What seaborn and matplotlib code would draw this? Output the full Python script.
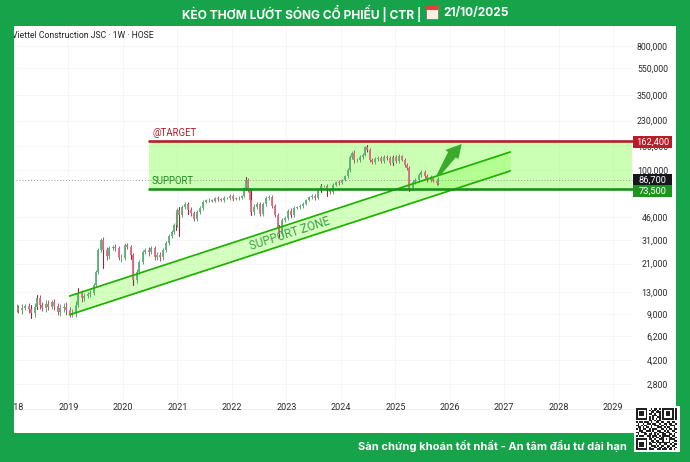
import numpy as np
import pandas as pd
import seaborn as sns
import matplotlib
matplotlib.use("Agg")
import matplotlib.pyplot as plt
from matplotlib.patches import Rectangle, Polygon

# ---- data ----
years = [2018.05,2018.08,2018.14,2018.21,2018.27,2018.32,2018.38,2018.43,2018.47,2018.52,2018.58,2018.63,2018.69,2018.74,2018.80,2018.85,2018.91,2018.96,
 2019.02,2019.07,2019.13,2019.18,2019.24,2019.29,2019.35,2019.40,2019.46,2019.51,2019.55,2019.59,2019.64,2019.70,2019.75,2019.81,2019.86,2019.92,2019.97,
 2020.03,2020.08,2020.14,2020.19,2020.25,2020.30,2020.36,2020.41,2020.47,2020.52,2020.58,2020.63,2020.68,2020.74,2020.79,2020.85,2020.90,2020.94,
 2021.00,2021.03,2021.09,2021.14,2021.20,2021.25,2021.31,2021.36,2021.42,2021.47,2021.53,2021.58,2021.64,2021.69,2021.75,2021.80,2021.86,2021.91,2021.97,
 2022.02,2022.08,2022.13,2022.19,2022.22,2022.26,2022.30,2022.33,2022.35,2022.41,2022.46,2022.52,2022.57,2022.63,2022.68,2022.74,2022.79,2022.85,2022.86,2022.92,2022.97,
 2023.03,2023.08,2023.14,2023.19,2023.25,2023.30,2023.36,2023.41,2023.47,2023.52,2023.58,2023.63,2023.69,2023.74,2023.80,2023.85,2023.91,2023.96,
 2024.02,2024.07,2024.13,2024.16,2024.20,2024.24,2024.29,2024.35,2024.40,2024.44,2024.49,2024.53,2024.57,2024.62,2024.68,2024.73,2024.79,2024.84,2024.90,2024.95,
 2025.01,2025.06,2025.12,2025.17,2025.21,2025.25,2025.26,2025.32,2025.37,2025.43,2025.48,2025.54,2025.59,2025.65,2025.70,2025.76,2025.79]
closes = [10000,9690,10000,10300,9850,9200,10200,11800,10500,10000,10700,10200,11000,10300,9370,10000,10200,9690,
 9060,9200,10500,12800,11800,12200,12600,12800,14700,18300,26300,31100,26300,23800,27200,27700,27200,23100,23100,
 28600,27700,24200,15900,18300,21600,25500,26300,25500,27200,23400,24200,23400,26300,29600,33300,35600,40100,
 51500,47400,54200,57000,51500,49000,44300,49800,53300,58900,60900,60900,59900,63000,61900,60900,63000,63000,65100,
 61900,63000,63000,65100,74400,85000,71900,60900,49800,54200,57000,48200,57000,63000,64000,55100,47400,38100,34400,43600,45100,
 50700,47400,53300,54200,55100,57000,60900,64000,65100,63000,71900,76900,76900,71900,69600,78200,82200,80900,
 85000,90900,100500,125000,133600,118800,118800,124900,129200,147700,140400,118800,114900,120800,122800,116800,124900,122800,113000,124900,
 116800,127000,118800,109300,103900,85000,74400,82200,85000,92400,97200,90900,85000,89400,83600,80900,86700]
wick_pct = [6,5,7,4,6,5,7,3,6,5,7,6,4,6,5,7,6,8,
 5,6,7,4,6,5,4,5,3,3,3,3,5,6,4,3,5,4,6,
 4,3,4,3,5,4,3,4,6,3,4,5,6,4,3,4,3,3,
 3,3,3,3,4,5,3,3,3,3,2,3,2,2,3,2,3,2,3,
 3,2,3,2,2,3,3,4,3,5,3,4,3,3,4,3,3,4,3,3,4,
 4,5,3,2,3,3,2,2,3,4,2,3,2,3,3,3,2,3,
 2,2,3,3,3,5,4,4,3,2,3,3,4,3,3,4,3,3,3,3,
 3,3,2,3,3,3,3,3,4,3,3,3,3,3,2,3,3]

wick_years = [2018.32,2018.43,2019.18,2019.64,2020.19,2020.14,2020.97,2021.03,2022.26,2022.35,2022.86,2023.08,2023.74,2024.49,2025.26,2021.20,2023.63,2024.95]
wick_highs = [10500,12400,14000,28000,24200,26300,49000,54200,89400,71900,40100,51000,74000,152700,82200,57500,79000,128000]
wick_lows = [8470,9900,11600,19500,14700,22800,36800,33300,72000,47000,32700,46500,65500,138000,70700,48500,70000,110000]

level_names = ["@TARGET", "SUPPORT"]
level_values = [162400, 73500]
last_price = 86700
zone_years = [2020.48, 2029.35]
channel_years = [2019.02, 2027.11]
channel_upper = [12200, 135800]
channel_lower = [8910, 98900]
arrow_years = [2025.76, 2025.97, 2025.92, 2026.22, 2026.16, 2026.11, 2025.82]
arrow_prices = [92400, 135800, 140400, 155300, 120800, 124000, 90900]

year_ticks = list(range(2018, 2030))
price_ticks = [800000,550000,350000,230000,150000,100000,46000,31000,21000,13000,9000,6200,4200,2800]

qr_rows = [
"1111111001011010111111101",
"1000001010110100100000101",
"1011101001101110101110101",
"1011101011010010101110101",
"1011101000111010101110101",
"1000001010100110100000101",
"1111111010101010111111101",
"0000000011010110000000000",
"1011011101001101100110110",
"0100100110110010011011001",
"1101011001011101101001110",
"0110101101000111010110010",
"1010110010111001101011011",
"0011001110100110010100110",
"1101110001011011101110001",
"0100011011010100110011010",
"1011100110111010111110110",
"0000000010101101100011001",
"1111111011010011101011110",
"1000001001101100100010011",
"1011101010110111111110100",
"1011101011001010011001011",
"1011101001110101100110110",
"1000001010011011010101001",
"1111111011100110111011010",
]

# ---- style ----
sns.set_theme(style="white")
FONT = ["Roboto", "DejaVu Sans"]
plt.rcParams["font.family"] = FONT
BANNER = "#17A34A"
UP, DOWN = "#5FAF78", "#DC6C84"
UP_W, DOWN_W = "#3E9A5C", "#B8324F"
ZONE = (0.55, 1.0, 0.35)
LINE_G = "#1DB100"

W, H = 690, 462
fig = plt.figure(figsize=(W/100, H/100), dpi=100, facecolor=BANNER)
ax = fig.add_axes([14/W, 1-433/H, (676-14)/W, (433-26)/H], facecolor="white")
ax.set_yscale("log")
ax.set_xlim(2018.03, 2030.154)
ax.set_ylim(1232.6, 1118900)
for s in ax.spines.values():
    s.set_visible(False)

# faint grid and axis line
x_end = 2029.35
ax.hlines(price_ticks, 2018.03, x_end, color="#F6F6F6", lw=0.7, zorder=0)
ax.vlines(year_ticks, 1830, 1118900, color="#F6F6F6", lw=0.7, zorder=0)
ax.hlines(1830, 2018.03, 2030.154, color="#EEEEEE", lw=0.8, zorder=0)

# zones
ax.fill_between(zone_years, level_values[1], level_values[0], color=ZONE, alpha=0.45, lw=0, zorder=1)
ax.fill_between(channel_years, channel_lower, channel_upper, color=ZONE, alpha=0.38, lw=0, zorder=1.1)

# last-price dotted line
ax.hlines(last_price*0.98, 2018.03, x_end, color="#9A9A9A", lw=0.7, ls=(0, (1, 2)), zorder=1.2)

# candles from long-form tables through seaborn
opens = [closes[0]] + closes[:-1]
dirs = ["up" if c >= o else "down" for o, c in zip(opens, closes)]
bodies = pd.DataFrame({
    "year": np.repeat(years, 2),
    "price": np.column_stack([opens, closes]).ravel(),
    "candle": np.repeat(np.arange(len(years)), 2),
    "dir": np.repeat(dirs, 2),
})
sns.lineplot(data=bodies, x="year", y="price", units="candle", hue="dir", estimator=None, sort=False,
             palette={"up": UP, "down": DOWN}, lw=1.3, solid_capstyle="butt", legend=False, ax=ax, zorder=3)
lows = [min(o, c)*(1-p/100) for o, c, p in zip(opens, closes, wick_pct)]
highs = [max(o, c)*(1+p/100) for o, c, p in zip(opens, closes, wick_pct)]
thin = pd.DataFrame({
    "year": np.repeat(years, 2),
    "price": np.column_stack([lows, highs]).ravel(),
    "candle": np.repeat(np.arange(len(years)), 2),
    "dir": np.repeat(dirs, 2),
})
sns.lineplot(data=thin, x="year", y="price", units="candle", hue="dir", estimator=None, sort=False,
             palette={"up": UP_W, "down": DOWN_W}, lw=0.6, solid_capstyle="butt", legend=False, ax=ax, zorder=2.9)
wicks = pd.DataFrame({
    "year": np.repeat(wick_years, 2),
    "price": np.column_stack([wick_lows, wick_highs]).ravel(),
    "candle": np.repeat(np.arange(len(wick_years)), 2),
})
sns.lineplot(data=wicks, x="year", y="price", units="candle", estimator=None, sort=False,
             color="#8E2A3E", lw=0.8, legend=False, ax=ax, zorder=2.9)

# channel and level lines
for vals in (channel_upper, channel_lower):
    sns.lineplot(x=channel_years, y=vals, color=LINE_G, lw=1.25, ax=ax, zorder=4, errorbar=None)
sns.lineplot(x=zone_years, y=[level_values[0]]*2, color="#B3202A", lw=1.9, ax=ax, zorder=4, errorbar=None)
sns.lineplot(x=zone_years, y=[level_values[1]]*2, color="#159415", lw=1.9, ax=ax, zorder=4, errorbar=None)

# arrow
ax.add_patch(Polygon(list(zip(arrow_years, arrow_prices)), closed=True, fc="#3BAA2A", ec="none", zorder=5))

# annotations
ax.text(2020.55, 186500, "@TARGET", color="#B3202A", fontsize=6.9, va="center", ha="left", zorder=6)
ax.text(2020.53, 83600, "SUPPORT", color="#1F8F1F", fontsize=6.9, va="center", ha="left", zorder=6)
ax.text(2023.07, 34500, "SUPPORT ZONE", color="#3F9E4A", fontsize=8.4, va="center", ha="center",
        rotation=18, rotation_mode="anchor", zorder=6)

# ticks as labels inside the panel
ax.set_xticks(year_ticks)
ax.set_xticklabels([str(y) for y in year_ticks])
ax.set_yticks(price_ticks)
ax.set_yticklabels([f"{p:,}" for p in price_ticks])
ax.minorticks_off()
ax.yaxis.tick_right()
ax.tick_params(axis="y", length=0, pad=-5.8, labelsize=6.3, labelcolor="#2B2B2B")
ax.tick_params(axis="x", length=0, pad=-21.5, labelsize=6.5, labelcolor="#2B2B2B")
for t in ax.get_yticklabels():
    t.set_ha("right")
for t in ax.get_xticklabels():
    t.set_clip_box(ax.bbox)
    t.set_clip_on(True)
ax.set_xlabel("")
ax.set_ylabel("")

# price tags on the scale
tags = [("162,400", level_values[0], "#B3202A"), ("86,700", 86700, "#15171C"), ("73,500", level_values[1], "#1F931F")]
tag_pix = [142, 180, 191]
for (txt, _, col), yp in zip(tags, tag_pix):
    fig.patches.append(Rectangle((633/W, 1-(yp+5.6)/H), 39/W, 11.2/H, transform=fig.transFigure, fc=col, ec="none", zorder=10))
    fig.text(652.5/W, 1-yp/H, txt, color="white", fontsize=6.7, ha="center", va="center", zorder=11)

# source line
ax.text(2017.97, 962000, "Viettel Construction JSC · 1W · HOSE", color="#222222", fontsize=6.2, va="center", ha="left", clip_on=True)

# banner
fig.text(421/W, 1-13/H, "KÈO THƠM LƯỚT SÓNG CỔ PHIẾU | CTR |", color="white", fontsize=8.6, fontweight="bold", ha="right", va="center", family=["Inter", "DejaVu Sans"])
fig.text(443/W, 1-13/H, "21/10/2025", color="white", fontsize=8.6, fontweight="bold", ha="left", va="center", family=["Inter", "DejaVu Sans"])
fig.patches.append(Rectangle((426/W, 1-19/H), 12/W, 13/H, transform=fig.transFigure, fc="#F5EFE6", ec="#9A5B4A", lw=0.5, zorder=5))
fig.patches.append(Rectangle((426/W, 1-10/H), 12/W, 4/H, transform=fig.transFigure, fc="#D9453A", ec="none", zorder=6))
fig.text(627/W, 1-446/H, "Sàn chứng khoán tốt nhất - An tâm đầu tư dài hạn", color="white", fontsize=8, fontweight="bold", ha="right", va="center", family=["Inter", "DejaVu Sans"])

# QR
qr = np.array([[int(c) for c in row] for row in qr_rows])
fig.patches.append(Rectangle((634/W, 1-452/H), 45.5/W, 46/H, transform=fig.transFigure, fc="white", ec="none", zorder=20))
qa = fig.add_axes([636/W, 1-450/H, 41/W, 42/H], zorder=30)
qa.imshow(qr, cmap="gray_r", vmin=0, vmax=1.15, aspect="auto", interpolation="nearest")
qa.axis("off")

fig.savefig("out.png", dpi=100, facecolor=BANNER)
